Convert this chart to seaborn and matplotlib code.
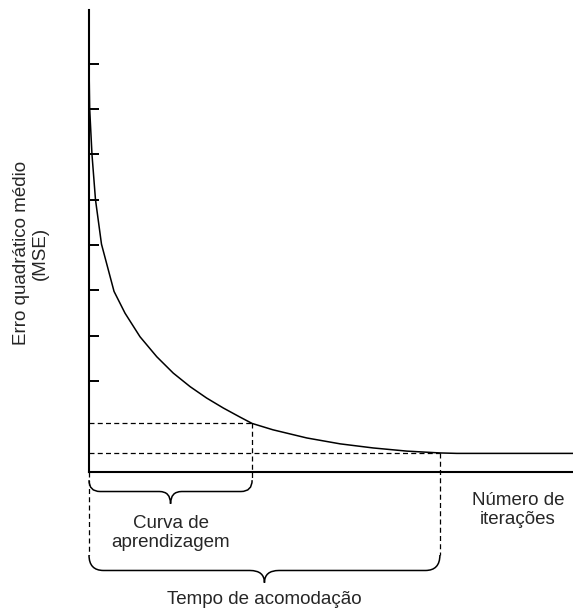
import matplotlib
matplotlib.use("Agg")
import matplotlib.pyplot as plt
from matplotlib.path import Path
from matplotlib.patches import PathPatch
import seaborn as sns

# curve (x: iterations 0-100, y: MSE in tick units)
iterations = [0, 0.14, 0.62, 1.34, 2.58, 5.17, 7.44, 10.54, 14.0, 17.4, 20.9, 24.3,
              27.75, 31.2, 33.7, 38.0, 45.0, 51.9, 58.7, 65.7, 72.5, 76.0, 100]
mse = [8.96, 8.00, 6.99, 6.00, 5.02, 3.98, 3.50, 2.98, 2.54, 2.18, 1.88, 1.63,
       1.41, 1.21, 1.07, 0.93, 0.75, 0.62, 0.53, 0.46, 0.42, 0.41, 0.41]

learn_x, learn_y = 33.7, 1.07      # end of learning curve
settle_x, settle_y = 72.5, 0.42    # settling time
ytick_vals = [2, 3, 4, 5, 6, 7, 8, 9]

ylabel = "Erro quadrático médio\n(MSE)"
xlabel = "Número de\niterações"
learn_label = "Curva de\naprendizagem"
settle_label = "Tempo de acomodação"

sns.set_style("white")
plt.rcParams['font.family'] = ['Liberation Sans', 'DejaVu Sans']

fig = plt.figure(figsize=(5.73, 6.13), dpi=100)
ax = fig.add_axes([89 / 573, 141 / 613, 484 / 573, 462 / 613])

sns.lineplot(x=iterations, y=mse, ax=ax, color='black', linewidth=1.1, estimator=None)

ax.set_xlim(0, 100)
ax.set_ylim(0, 10.18)
ax.set_xticks([])
ax.set_yticks(ytick_vals)
ax.set_yticklabels([])
ax.tick_params(axis='y', direction='in', length=7.2, width=1.4, color='black', left=True)
sns.despine(ax=ax)
for side in ['left', 'bottom']:
    ax.spines[side].set_linewidth(1.5)
    ax.spines[side].set_color('black')

dash = dict(color='black', linewidth=0.9, linestyle=(0, (4, 2.6)), clip_on=False)
# horizontal guides
ax.plot([0, learn_x], [learn_y, learn_y], **dash)
ax.plot([0, settle_x], [settle_y, settle_y], **dash)
# vertical guides
ax.plot([0, 0], [0, -1.83], **dash)
ax.plot([learn_x, learn_x], [learn_y, -0.18], **dash)
ax.plot([settle_x, settle_x], [settle_y, -1.83], **dash)


def brace(ax, x0, x1, y_top, y_bar, y_tip, r):
    xm = (x0 + x1) / 2
    verts = [(x0, y_top), (x0, y_bar), (x0 + r, y_bar),
             (xm - r, y_bar), (xm, y_bar), (xm, y_tip),
             (xm, y_bar), (xm + r, y_bar),
             (x1 - r, y_bar), (x1, y_bar), (x1, y_top)]
    codes = [Path.MOVETO, Path.CURVE3, Path.CURVE3,
             Path.LINETO, Path.CURVE3, Path.CURVE3,
             Path.CURVE3, Path.CURVE3,
             Path.LINETO, Path.CURVE3, Path.CURVE3]
    patch = PathPatch(Path(verts, codes), fill=False, edgecolor='black',
                      linewidth=1.1, clip_on=False)
    ax.add_patch(patch)


brace(ax, 0, learn_x, -0.18, -0.43, -0.70, 2.3)
brace(ax, 0, settle_x, -1.83, -2.17, -2.44, 3.0)

fs = 13.5
ax.text(learn_x / 2, -1.34, learn_label, ha='center', va='center', fontsize=fs, clip_on=False)
ax.text(settle_x / 2, -2.82, settle_label, ha='center', va='center', fontsize=fs, clip_on=False)
ax.text(88.6, -0.84, xlabel, ha='center', va='center', fontsize=fs, clip_on=False)
ax.text(-12.0, 4.82, ylabel, ha='center', va='center', rotation=90, fontsize=fs,
        multialignment='center', clip_on=False)

fig.savefig("out.png", dpi=100)
